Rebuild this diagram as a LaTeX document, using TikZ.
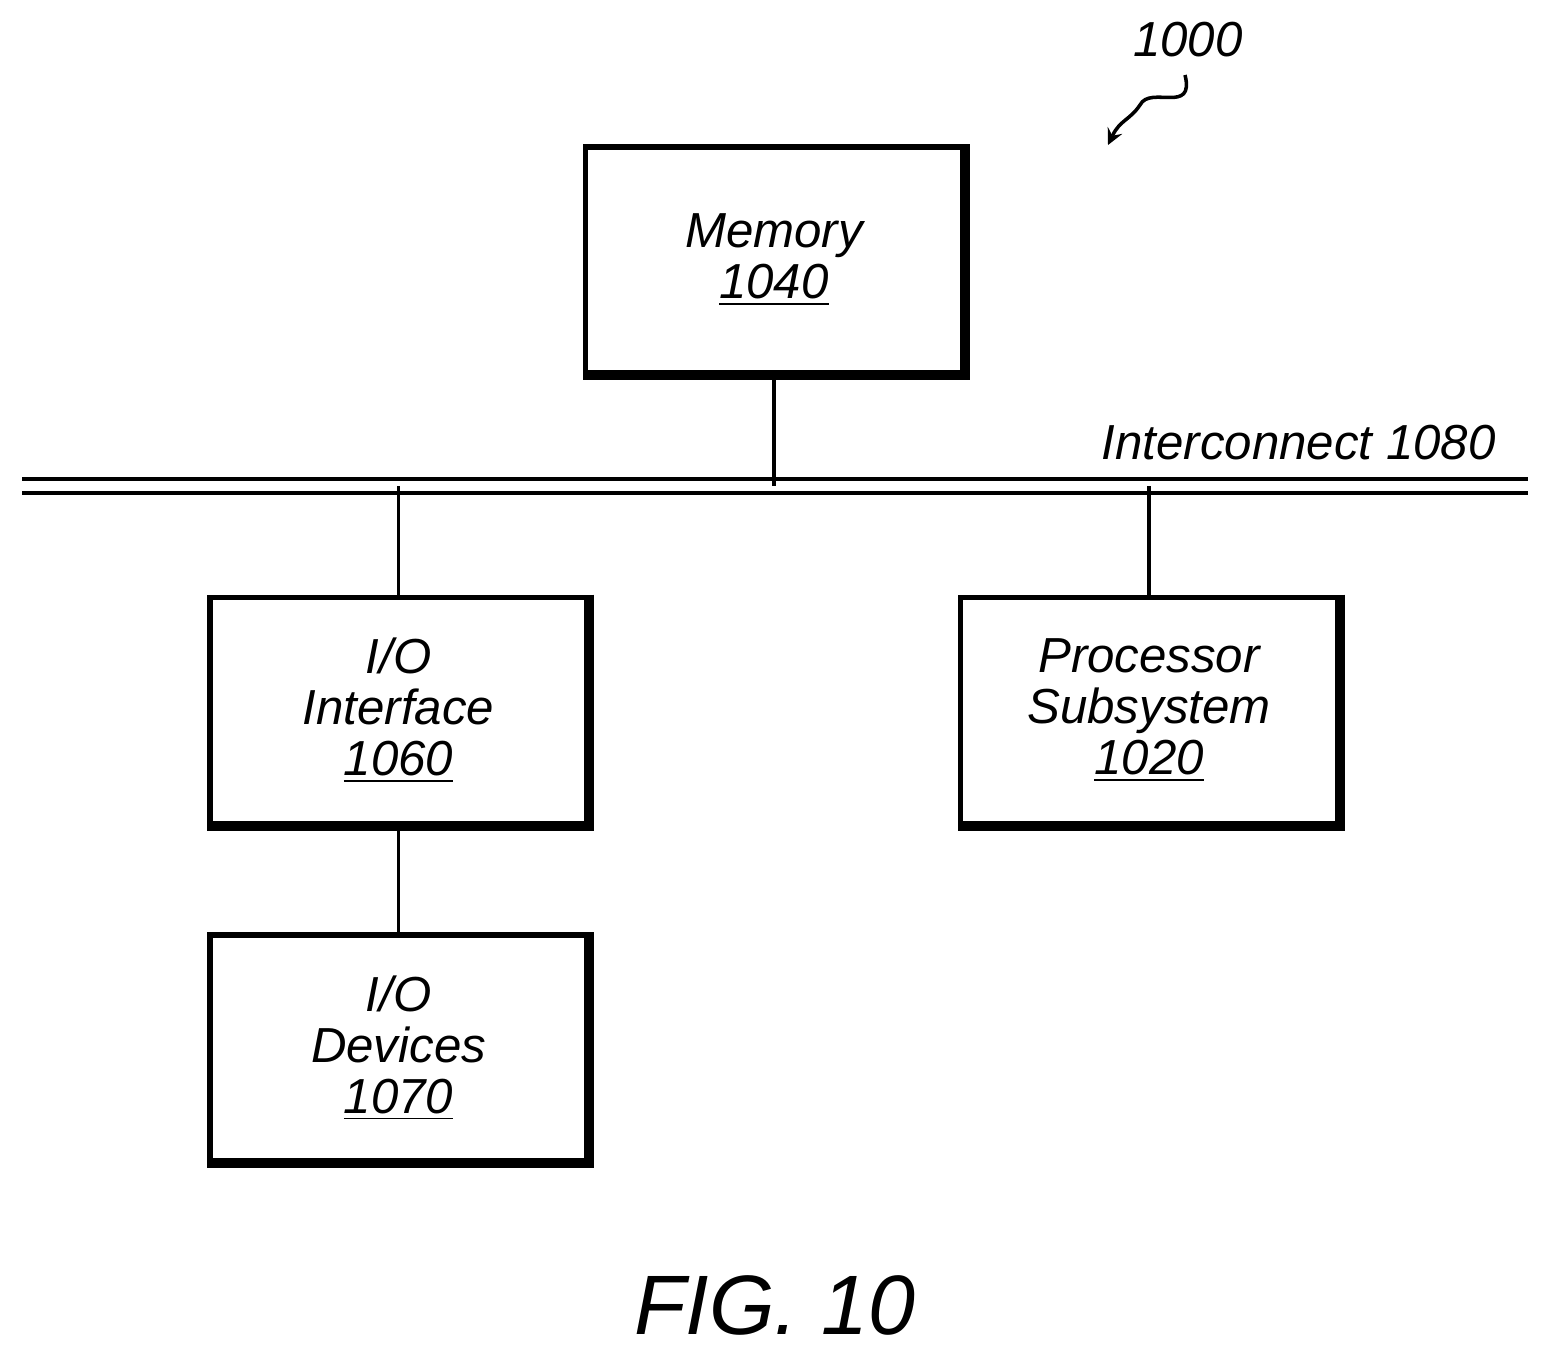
\documentclass[tikz,border=0pt]{standalone}
\usepackage{fontspec}
\setmainfont{Liberation Sans}
\usetikzlibrary{positioning}
\tikzset{
  box/.style={draw,line width=1.6pt,minimum width=3.77cm,minimum height=2.26cm,
    align=center,font=\itshape\fontsize{14}{14.5}\selectfont},
  link/.style={line width=1pt}
}
\newcommand{\shadowbox}[1]{\draw[line width=2.6pt] (#1.north east) -- (#1.south east) -- (#1.south west);}
\begin{document}
\begin{tikzpicture}
  \useasboundingbox (0,0) rectangle (15.5,-13.52);
  % blocks
  \node[box] (mem) at (7.74,-2.60) {Memory\\\underline{1040}};
  \node[box] (ioi) at (3.985,-7.105) {I/O\\Interface\\\underline{1060}};
  \node[box] (proc) at (11.49,-7.105) {Processor\\Subsystem\\\underline{1020}};
  \node[box] (iod) at (3.985,-10.48) {I/O\\Devices\\\underline{1070}};
  \foreach \n in {mem,ioi,proc,iod} \shadowbox{\n}
  % interconnect
  \coordinate (busl) at (0.22,-4.86);
  \coordinate (busr) at (15.28,-4.86);
  \draw[line width=1.3pt,double,double distance=2.6pt] (busl) -- (busr);
  \node[anchor=south east,font=\itshape\fontsize{14}{14}\selectfont] (buslabel) at (15.08,-4.72) {Interconnect 1080};
  \draw[link] (mem.south) -- (mem.south |- busl);
  \draw[link] (ioi.north) -- (ioi.north |- busl);
  \draw[link] (proc.north) -- (proc.north |- busl);
  \draw[link] (ioi.south) -- (iod.north);
  % reference numeral
  \node[font=\itshape\fontsize{14}{14}\selectfont] (ref) at (11.88,-0.40) {1000};
  \coordinate (reftip) at (11.08,-1.45);
  \draw[line width=1pt,-stealth] (11.85,-0.75) .. controls (11.95,-1.15) and (11.5,-0.85) .. (11.4,-1.05) .. controls (11.3,-1.2) and (11.2,-1.2) .. (reftip);
  % caption
  \node[font=\itshape\fontsize{24}{24}\selectfont] (fig) at (7.75,-13.05) {FIG. 10};
\end{tikzpicture}
\end{document}
